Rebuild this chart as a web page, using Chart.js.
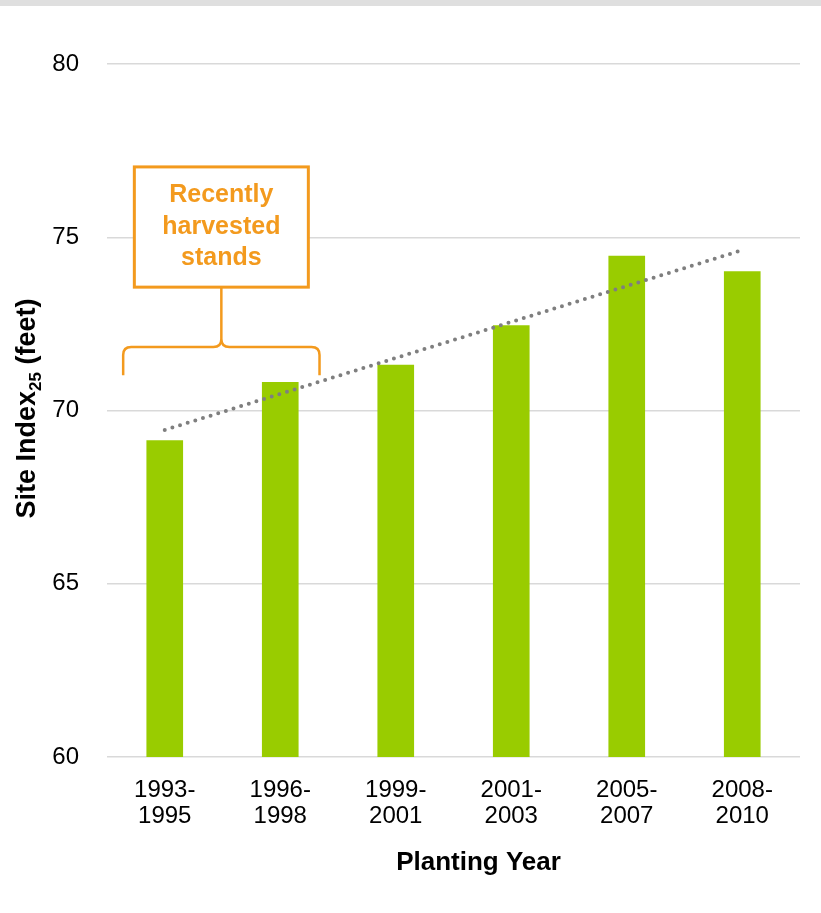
<!DOCTYPE html>
<html>
<head>
<meta charset="utf-8">
<script src="https://cdn.jsdelivr.net/npm/chart.js@4.4.0/dist/chart.umd.min.js"></script>
<style>
  body { margin: 0; background: #fff; }
  #faixa { position: absolute; left: 0; top: 0; width: 821px; height: 6px; background: #dfdfdf; z-index: 2; }
  #caixa { position: absolute; left: 0; top: 0; width: 821px; height: 913px; }
</style>
</head>
<body>
<div id="faixa"></div>
<div id="caixa"><canvas id="grafico"></canvas></div>
<script>
// Dados do gráfico
const anosPlantio = [['1993-', '1995'], ['1996-', '1998'], ['1999-', '2001'], ['2001-', '2003'], ['2005-', '2007'], ['2008-', '2010']];
const indiceSitio = [69.13, 70.81, 71.31, 72.45, 74.46, 74.01];
// linha de tendência (só as pontas)
const tendencia = [69.44, null, null, null, null, 74.63];
const ticksY = [60, 65, 70, 75, 80];

const fonte = "'Liberation Sans', Arial, sans-serif";
const laranja = '#f39a1e';

// Títulos dos eixos e anotação "Recently harvested stands"
const desenhosExtras = {
    id: 'desenhosExtras',
    afterDraw(chart) {
        const ctx = chart.ctx;
        const area = chart.chartArea;
        const x = chart.scales.x;
        const y = chart.scales.y;
        ctx.save();

        // título do eixo Y com subscrito
        ctx.translate(28, (area.top + area.bottom) / 2 - 2);
        ctx.rotate(-Math.PI / 2);
        ctx.fillStyle = '#000';
        ctx.textBaseline = 'middle';
        const fTitulo = 'bold 27px ' + fonte;
        const fSub = 'bold 17px ' + fonte;
        ctx.font = fTitulo;
        const p1 = 'Site Index', p3 = ' (feet)';
        const w1 = ctx.measureText(p1).width;
        const w3 = ctx.measureText(p3).width;
        ctx.font = fSub;
        const w2 = ctx.measureText('25').width;
        let cx = -(w1 + w2 + w3) / 2;
        ctx.textAlign = 'left';
        ctx.font = fTitulo;
        ctx.fillText(p1, cx, 0);
        ctx.font = fSub;
        ctx.fillText('25', cx + w1, 8);
        ctx.font = fTitulo;
        ctx.fillText(p3, cx + w1 + w2, 0);
        ctx.restore();

        // título do eixo X
        ctx.save();
        ctx.font = 'bold 26px ' + fonte;
        ctx.fillStyle = '#000';
        ctx.textAlign = 'center';
        ctx.textBaseline = 'middle';
        ctx.fillText('Planting Year', (area.left + area.right) / 2 + 25, 863);
        ctx.restore();

        // anotação: caixa + chave sobre as duas primeiras barras
        const larg = x.getPixelForValue(1) - x.getPixelForValue(0);
        const xa = x.getPixelForValue(0) - larg * 0.36;
        const xb = x.getPixelForValue(1) + larg * 0.34;
        const xm = (xa + xb) / 2;
        const yTopo = y.getPixelForValue(77.03);
        const yBase = y.getPixelForValue(73.56);
        const yChave = y.getPixelForValue(71.83);
        const yPonta = y.getPixelForValue(71.02);

        ctx.save();
        ctx.strokeStyle = laranja;
        ctx.lineWidth = 3;
        ctx.fillStyle = '#fff';
        ctx.fillRect(xm - 87, yTopo, 174, yBase - yTopo);
        ctx.strokeRect(xm - 87, yTopo, 174, yBase - yTopo);

        ctx.fillStyle = laranja;
        ctx.font = 'bold 25px ' + fonte;
        ctx.textAlign = 'center';
        ctx.textBaseline = 'middle';
        const meioCaixa = (yTopo + yBase) / 2;
        ['Recently', 'harvested', 'stands'].forEach((t, i) => {
            ctx.fillText(t, xm, meioCaixa + (i - 1) * 31.5);
        });

        // chave
        ctx.lineWidth = 2.5;
        const r = 8;
        ctx.beginPath();
        ctx.moveTo(xm, yBase);
        ctx.lineTo(xm, yChave - r);
        ctx.quadraticCurveTo(xm, yChave, xm - r, yChave);
        ctx.lineTo(xa + r, yChave);
        ctx.quadraticCurveTo(xa, yChave, xa, yChave + r);
        ctx.lineTo(xa, yPonta);
        ctx.moveTo(xm, yChave - r);
        ctx.quadraticCurveTo(xm, yChave, xm + r, yChave);
        ctx.lineTo(xb - r, yChave);
        ctx.quadraticCurveTo(xb, yChave, xb, yChave + r);
        ctx.lineTo(xb, yPonta);
        ctx.stroke();
        ctx.restore();
    }
};

new Chart(document.getElementById('grafico'), {
    type: 'bar',
    data: {
        labels: anosPlantio,
        datasets: [{
            type: 'line',
            label: 'Tendência',
            data: tendencia,
            spanGaps: true,
            borderColor: '#7f7f7f',
            borderWidth: 4,
            borderDash: [0, 8],
            borderCapStyle: 'round',
            pointRadius: 0,
            fill: false,
            order: 0
        }, {
            label: 'Site Index',
            data: indiceSitio,
            backgroundColor: '#99cc00',
            barThickness: 36,
            order: 1
        }]
    },
    options: {
        responsive: true,
        maintainAspectRatio: false,
        animation: false,
        layout: { padding: { top: 64, right: 21, bottom: 0, left: 0 } },
        plugins: {
            legend: { display: false },
            tooltip: { enabled: false }
        },
        scales: {
            x: {
                grid: { display: false },
                border: { display: false },
                ticks: {
                    color: '#000',
                    padding: 12,
                    maxRotation: 0,
                    font: { family: fonte, size: 24, lineHeight: 1.1 }
                },
                afterFit(s) { s.height = 156; }
            },
            y: {
                min: 60,
                max: 80,
                afterBuildTicks(s) { s.ticks = ticksY.map(v => ({ value: v })); },
                grid: { color: '#d9d9d9', lineWidth: 1.5, drawTicks: false },
                border: { display: false },
                ticks: {
                    color: '#000',
                    padding: 28,
                    font: { family: fonte, size: 24 }
                },
                afterFit(s) { s.width = 107; }
            }
        }
    },
    plugins: [desenhosExtras]
});
</script>
</body>
</html>
